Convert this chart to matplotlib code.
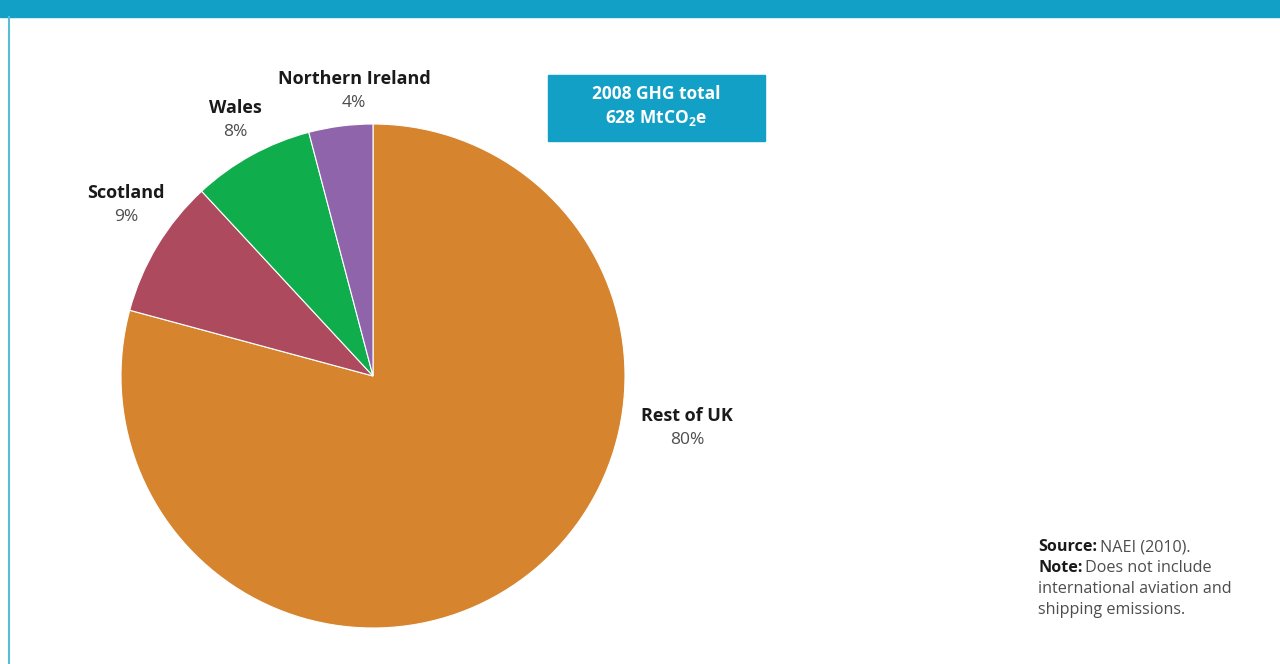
import matplotlib.pyplot as plt
from matplotlib.patches import Rectangle

# shares of 2008 UK GHG emissions (%)
regions = ['Rest of UK', 'Scotland', 'Wales', 'Northern Ireland']
shares = [79.2, 8.9, 7.8, 4.1]
share_labels = ['80%', '9%', '8%', '4%']
colors = ['#D6852E', '#AD4A5E', '#10AD4C', '#8F64AA']

TEAL = '#13A0C6'
DARK = '#1a1a1a'
GREY = '#4d4d4d'

plt.rcParams['font.family'] = ['Open Sans', 'DejaVu Sans']
plt.rcParams['mathtext.fontset'] = 'custom'
plt.rcParams['mathtext.rm'] = 'Open Sans:bold'

fig = plt.figure(figsize=(12.8, 6.64), dpi=100)
ax = fig.add_axes([0, 0, 1, 1])

# pie drawn in pixel-like data units (y up)
ax.pie(shares, colors=colors, startangle=90, counterclock=False,
       center=(373, 288), radius=252,
       wedgeprops=dict(edgecolor='white', linewidth=0.8))
ax.set_xlim(0, 1280)
ax.set_ylim(0, 664)
ax.set_aspect('equal')
ax.axis('off')

# header band and left frame line
ax.add_patch(Rectangle((0, 647), 1280, 17, color=TEAL, zorder=5))
ax.plot([9, 9], [0, 647], color='#5BBCD6', lw=1.5, zorder=5)

# wedge labels
label_pos = {
    'Rest of UK': (687, 248),
    'Scotland': (126, 471),
    'Wales': (235, 556),
    'Northern Ireland': (354, 585),
}
for name, pct in zip(regions, share_labels):
    x, y = label_pos[name]
    ax.text(x, y, name, ha='center', va='center', fontsize=13,
            fontweight='bold', color=DARK)
    ax.text(x, y - 24, pct, ha='center', va='center', fontsize=12.5,
            color=GREY)

# total box
ax.add_patch(Rectangle((548, 523), 217, 66, color=TEAL, zorder=3))
ax.text(656.5, 570, '2008 GHG total', ha='center', va='center',
        fontsize=12.5, fontweight='bold', color='white', zorder=4)
ax.text(656.5, 546, r'628 MtCO$_2$e', ha='center', va='center',
        fontsize=12.5, fontweight='bold', color='white', zorder=4)

# source / note block
renderer = fig.canvas.get_renderer()
inv = ax.transData.inverted()
NOTE_SIZE = 11.6


def bold_then_plain(x, y, bold, plain):
    t = ax.text(x, y, bold, ha='left', va='center', fontsize=NOTE_SIZE,
                fontweight='bold', color=DARK)
    bb = t.get_window_extent(renderer=renderer)
    x_end = inv.transform((bb.x1, bb.y0))[0]
    ax.text(x_end + 3, y, plain, ha='left', va='center', fontsize=NOTE_SIZE,
            color=GREY)


bold_then_plain(1038, 117, 'Source:', 'NAEI (2010).')
bold_then_plain(1038, 96, 'Note:', 'Does not include')
ax.text(1038, 75, 'international aviation and', ha='left', va='center',
        fontsize=NOTE_SIZE, color=GREY)
ax.text(1038, 54, 'shipping emissions.', ha='left', va='center',
        fontsize=NOTE_SIZE, color=GREY)

plt.savefig('out.png', dpi=100)
